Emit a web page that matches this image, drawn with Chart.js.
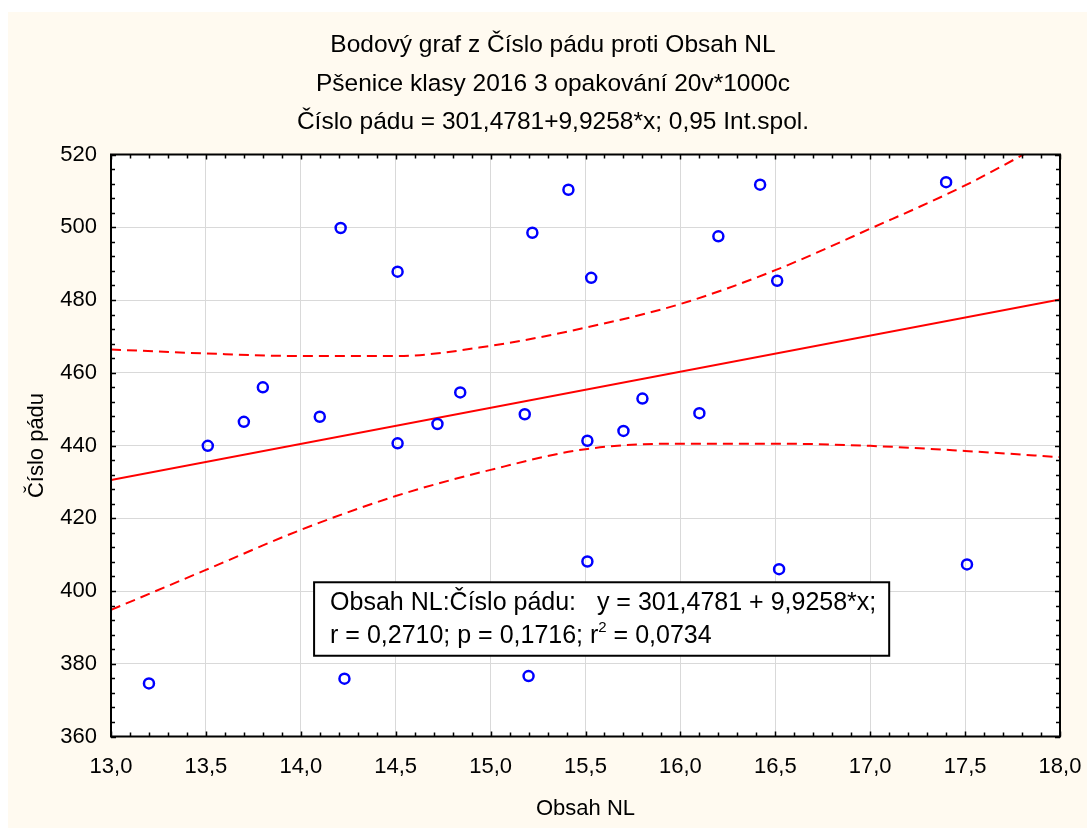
<!DOCTYPE html>
<html>
<head>
<meta charset="utf-8">
<script src="https://cdn.jsdelivr.net/npm/chart.js@4/dist/chart.umd.min.js"></script>
<style>
  html, body { margin: 0; padding: 0; background: #ffffff; }
  #wrap { width: 1087px; height: 830px; }
</style>
</head>
<body>
<div id="wrap"><canvas id="c" width="1087" height="830"></canvas></div>
<script>
// Obsah NL (x) and Číslo pádu (y) for each sample
const obsahNL = [13.20, 13.51, 13.70, 13.80, 14.10, 14.21, 14.23, 14.51, 14.51, 14.72, 14.84, 15.18, 15.20, 15.22,
                 15.41, 15.51, 15.51, 15.53, 15.70, 15.80, 16.10, 16.20, 16.42, 16.51, 16.52, 17.40, 17.51];
const cisloPadu = [374.6, 439.9, 446.5, 456.0, 447.9, 499.8, 375.9, 487.8, 440.6, 445.9, 454.6, 448.6, 376.6, 498.5,
                   510.3, 441.3, 408.1, 486.1, 444.0, 452.9, 448.9, 497.5, 511.7, 485.3, 406.0, 512.4, 407.3];

// Regression coefficients (y = a + b*x)
const intercept = 301.4781;
const slope = 9.9258;

// 0,95 confidence band for the regression line
const bandX = [13.0, 13.5, 14.0, 14.5, 15.0, 15.5, 16.0, 16.5, 17.0, 17.5, 18.0];
const bandUpper = [466.4, 465.3, 464.6, 464.6, 467.4, 472.4, 478.9, 488.2, 499.6, 511.5, 525.5];
const bandLower = [394.8, 405.8, 416.8, 426.1, 433.3, 439.0, 440.5, 440.5, 439.9, 438.5, 436.8];

// Axis ranges
const xRange = [13, 18];
const yRange = [360, 520];

const titleLines = [
  'Bodový graf z Číslo pádu proti Obsah NL',
  'Pšenice klasy 2016 3 opakování 20v*1000c',
  'Číslo pádu = 301,4781+9,9258*x; 0,95 Int.spol.'
];
const statLine1 = 'Obsah NL:Číslo pádu:   y = 301,4781 + 9,9258*x;';
const statLine2a = 'r = 0,2710; p = 0,1716; r';
const statLine2b = ' = 0,0734';

const FONT = "'Liberation Sans', Arial, sans-serif";
const RED = '#ff0000';
const BLUE = '#0000ff';

const points = obsahNL.map((x, i) => ({ x: x, y: cisloPadu[i] }));
const fitLine = xRange.map(x => ({ x: x, y: intercept + slope * x }));
const upper = bandX.map((x, i) => ({ x: x, y: bandUpper[i] }));
const lower = bandX.map((x, i) => ({ x: x, y: bandLower[i] }));

const backdrop = {
  id: 'backdrop',
  beforeDraw(chart) {
    const { ctx, chartArea: a } = chart;
    ctx.save();
    ctx.fillStyle = '#ffffff';
    ctx.fillRect(0, 0, chart.width, chart.height);
    ctx.fillStyle = '#fffaf0';
    ctx.fillRect(8, 12, chart.width - 8, chart.height - 14);
    ctx.fillStyle = '#ffffff';
    ctx.fillRect(a.left, a.top, a.right - a.left, a.bottom - a.top);
    ctx.restore();
  }
};

const decorations = {
  id: 'decorations',
  afterDraw(chart) {
    const { ctx, chartArea: a, scales } = chart;
    const xs = scales.x, ys = scales.y;
    ctx.save();

    // minor ticks on all four sides, pointing inward
    ctx.strokeStyle = '#000000';
    ctx.lineWidth = 1.5;
    ctx.beginPath();
    for (let k = 0; k <= 50; k++) {
      const v = xRange[0] + k * 0.1;
      const px = Math.round(xs.getPixelForValue(v)) + 0.5;
      const len = (k % 5 === 0) ? 5 : 4;
      ctx.moveTo(px, a.top); ctx.lineTo(px, a.top + len);
      ctx.moveTo(px, a.bottom); ctx.lineTo(px, a.bottom - len);
    }
    for (let k = 0; k <= 40; k++) {
      const v = yRange[0] + k * 4;
      const py = Math.round(ys.getPixelForValue(v)) + 0.5;
      const len = (k % 5 === 0) ? 5 : 4;
      ctx.moveTo(a.left, py); ctx.lineTo(a.left + len, py);
      ctx.moveTo(a.right, py); ctx.lineTo(a.right - len, py);
    }
    ctx.stroke();

    // plot frame
    ctx.lineWidth = 2;
    ctx.strokeRect(a.left, a.top, a.right - a.left, a.bottom - a.top);

    // titles
    ctx.fillStyle = '#000000';
    ctx.font = '24.5px ' + FONT;
    ctx.textAlign = 'center';
    ctx.textBaseline = 'middle';
    const cx = 553;
    [45, 84, 122].forEach((y, i) => ctx.fillText(titleLines[i], cx, y));

    // regression statistics box
    const bx0 = xs.getPixelForValue(14.07), bx1 = xs.getPixelForValue(17.10);
    const by0 = ys.getPixelForValue(402.4), by1 = ys.getPixelForValue(382.2);
    ctx.fillStyle = '#ffffff';
    ctx.fillRect(bx0, by0, bx1 - bx0, by1 - by0);
    ctx.lineWidth = 2;
    ctx.strokeStyle = '#000000';
    ctx.strokeRect(bx0, by0, bx1 - bx0, by1 - by0);
    ctx.fillStyle = '#000000';
    ctx.textAlign = 'left';
    ctx.font = '25px ' + FONT;
    const tx = bx0 + 16;
    ctx.fillText(statLine1, tx, by0 + 21);
    const l2y = by0 + 54;
    ctx.fillText(statLine2a, tx, l2y);
    const w = ctx.measureText(statLine2a).width;
    ctx.font = '15px ' + FONT;
    ctx.fillText('2', tx + w, l2y - 8);
    const w2 = ctx.measureText('2').width;
    ctx.font = '25px ' + FONT;
    ctx.fillText(statLine2b, tx + w + w2, l2y);

    ctx.restore();
  }
};

new Chart(document.getElementById('c'), {
  type: 'scatter',
  data: {
    datasets: [
      {
        label: 'Číslo pádu',
        data: points,
        showLine: false,
        pointStyle: 'circle',
        pointRadius: 5,
        pointBorderWidth: 2.5,
        pointBorderColor: BLUE,
        pointBackgroundColor: 'rgba(0,0,0,0)',
        order: 1
      },
      {
        label: 'fit',
        data: fitLine,
        showLine: true,
        borderColor: RED,
        borderWidth: 2,
        pointRadius: 0,
        order: 2
      },
      {
        label: 'upper',
        data: upper,
        showLine: true,
        borderColor: RED,
        borderWidth: 2,
        borderDash: [10, 6],
        cubicInterpolationMode: 'monotone',
        pointRadius: 0,
        order: 3
      },
      {
        label: 'lower',
        data: lower,
        showLine: true,
        borderColor: RED,
        borderWidth: 2,
        borderDash: [10, 6],
        cubicInterpolationMode: 'monotone',
        pointRadius: 0,
        order: 3
      }
    ]
  },
  options: {
    responsive: false,
    animation: false,
    events: [],
    layout: { padding: { top: 154.5, right: 27, left: 0, bottom: 0 } },
    plugins: {
      legend: { display: false },
      tooltip: { enabled: false },
      title: { display: false }
    },
    scales: {
      x: {
        type: 'linear',
        min: xRange[0], max: xRange[1],
        afterFit(s) { s.height = 93.5; s.paddingLeft = 0; s.paddingRight = 0; },
        border: { display: false },
        grid: { color: '#d9d9d9', lineWidth: 1, drawTicks: false },
        ticks: {
          stepSize: 0.5,
          padding: 17,
          color: '#000000',
          font: { family: FONT, size: 22 },
          callback: v => v.toFixed(1).replace('.', ',')
        },
        title: {
          display: true,
          text: 'Obsah NL',
          color: '#000000',
          font: { family: FONT, size: 22 },
          padding: { top: 0, bottom: 8 }
        }
      },
      y: {
        type: 'linear',
        min: yRange[0], max: yRange[1],
        afterFit(s) { s.width = 111; s.paddingTop = 0; s.paddingBottom = 0; },
        border: { display: false },
        grid: { color: '#d9d9d9', lineWidth: 1, drawTicks: false },
        ticks: {
          stepSize: 20,
          padding: 14,
          color: '#000000',
          font: { family: FONT, size: 22 },
          callback: v => String(v)
        },
        title: {
          display: true,
          text: 'Číslo pádu',
          color: '#000000',
          font: { family: FONT, size: 22 },
          padding: { top: 24, bottom: 0 }
        }
      }
    }
  },
  plugins: [backdrop, decorations]
});
</script>
</body>
</html>
